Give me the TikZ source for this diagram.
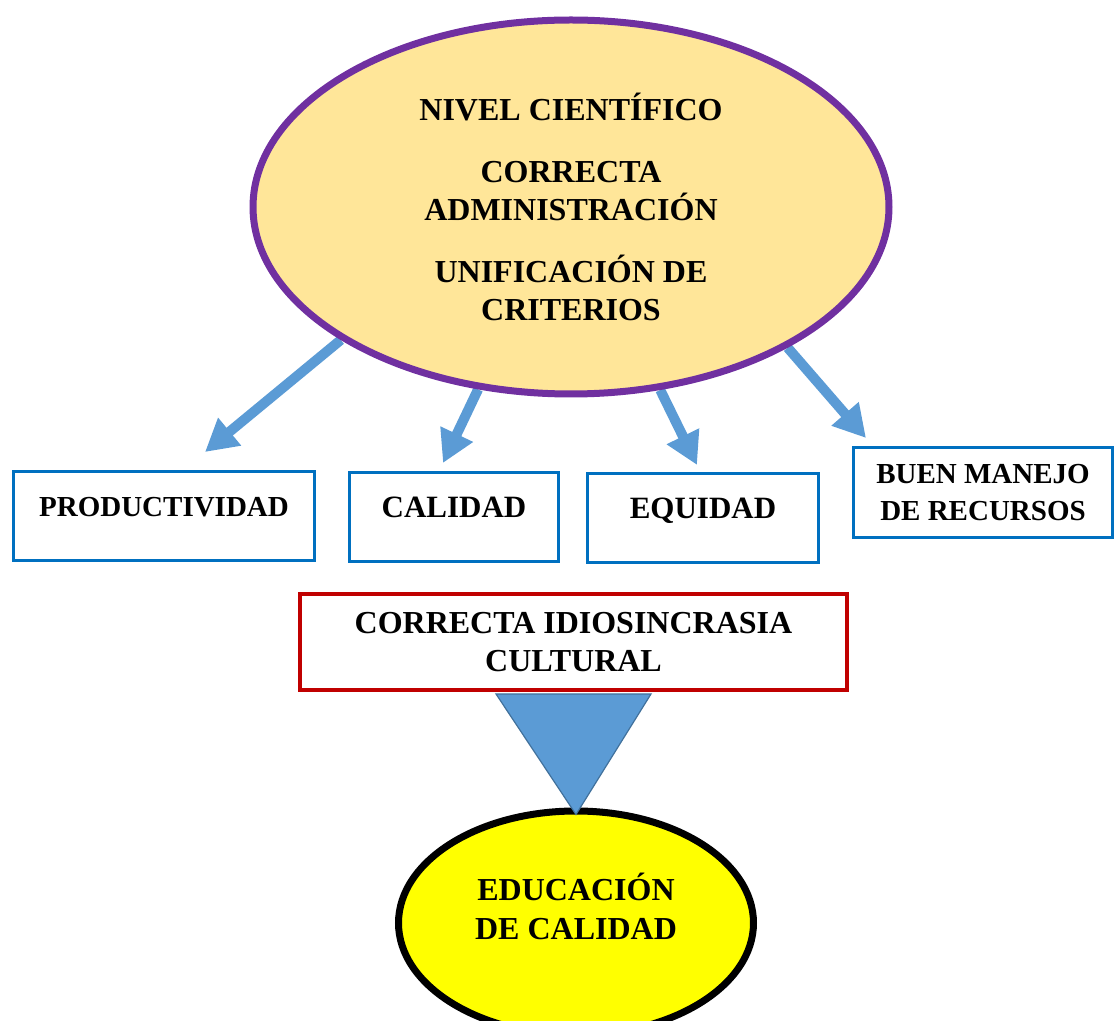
\documentclass[tikz,border=0pt]{standalone}
\usepackage{fontspec}
\setmainfont{Liberation Serif}
\usetikzlibrary{arrows.meta,shapes.geometric,backgrounds}
\definecolor{ideaPurple}{HTML}{7030A0}
\definecolor{ideaFill}{HTML}{FFE699}
\definecolor{flowBlue}{HTML}{5B9BD5}
\definecolor{boxBlue}{HTML}{0070C0}
\definecolor{cultRed}{HTML}{C00000}
\definecolor{goalYellow}{HTML}{FFFF00}
\definecolor{funnelLine}{HTML}{41719C}
\tikzset{
  ideaell/.style={ellipse, draw=ideaPurple, fill=ideaFill, line width=3.5pt, align=center, font=\fontsize{16}{19}\selectfont\bfseries, minimum width=318pt, minimum height=187pt, inner sep=0pt},
  catbox/.style={rectangle, draw=boxBlue, fill=white, line width=1.5pt, align=center, font=\fontsize{15.5}{18.5}\selectfont\bfseries, inner sep=0pt},
  topline/.style={text height=22.5pt, text depth=22pt},
  cultbox/.style={rectangle, draw=cultRed, fill=white, line width=2pt, align=center, font=\fontsize{16}{19}\selectfont\bfseries, minimum width=273.5pt, minimum height=48pt, inner sep=0pt},
  goalell/.style={ellipse, draw=black, fill=goalYellow, line width=3.5pt, minimum width=177.5pt, minimum height=112pt, inner sep=0pt},
  goaltext/.style={align=center, font=\fontsize{16}{19.5}\selectfont\bfseries, inner sep=0pt},
  flowarrow/.style={-{Triangle[length=16pt,width=17pt]}, line width=5pt, draw=flowBlue},
  funnel/.style={fill=flowBlue, draw=funnelLine, line width=0.6pt, line join=miter},
}
\begin{document}
\begin{tikzpicture}[x=0.5pt,y=-0.5pt]
  \useasboundingbox (0,0) rectangle (1116,1021);

  % --- main idea ---
  \node[ideaell] (idea) at (571,207)
    {NIVEL CIENTÍFICO\\[12pt]
     CORRECTA\\ADMINISTRACIÓN\\[12pt]
     UNIFICACIÓN DE\\CRITERIOS};

  % --- four outcomes ---
  \node[catbox, topline, minimum width=150.5pt, font=\fontsize{14.5}{17}\selectfont\bfseries]
    (prod) at (164,516.5) {PRODUCTIVIDAD};
  \node[catbox, topline, minimum width=104.5pt]
    (cal) at (454,517.5) {CALIDAD};
  \node[catbox, topline, minimum width=115.5pt]
    (equi) at (703,518) {EQUIDAD};
  \node[catbox, minimum width=129.5pt, minimum height=45pt, font=\fontsize{14.5}{18.5}\selectfont\bfseries]
    (buen) at (983,492.5) {BUEN MANEJO\\DE RECURSOS};

  \coordinate (prodtip) at (205,452);
  \coordinate (caltip) at (443,463);
  \coordinate (equitip) at (697,465);
  \coordinate (buentip) at (866,438);

  \begin{scope}[on background layer]
    \draw[flowarrow] (idea.210) -- (prodtip);
    \draw[flowarrow] (idea.243) -- (caltip);
    \draw[flowarrow] (idea.296) -- (equitip);
    \draw[flowarrow] (idea.327) -- (buentip);
  \end{scope}

  % --- culture and goal ---
  \node[cultbox] (cult) at (573.5,642) {CORRECTA IDIOSINCRASIA\\CULTURAL};

  \node[goalell] (goal) at (576,923) {};
  \node[goaltext] (goaltxt) at ([yshift=8.5pt]goal.center) {EDUCACIÓN\\DE CALIDAD};

  \filldraw[funnel] ([xshift=-38.75pt,yshift=-1pt]cult.south)
    -- ([xshift=38.75pt,yshift=-1pt]cult.south)
    -- ([yshift=-3.5pt]goal.north) -- cycle;
\end{tikzpicture}
\end{document}
